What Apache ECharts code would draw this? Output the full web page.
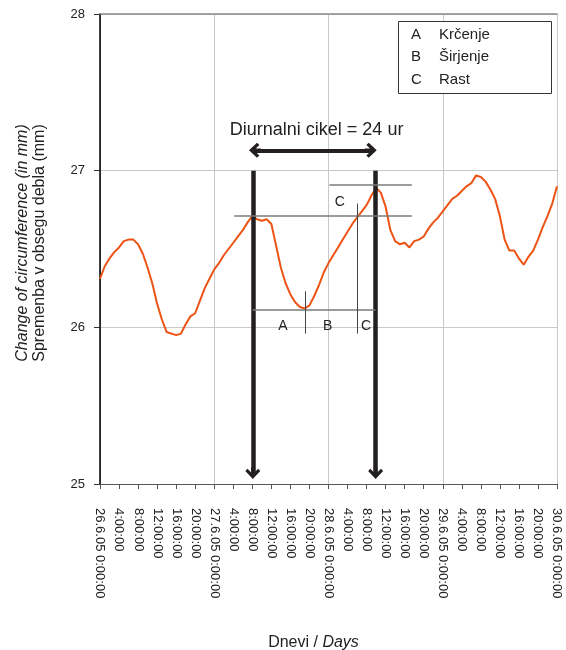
<!DOCTYPE html>
<html>
<head>
<meta charset="utf-8">
<script src="https://cdn.jsdelivr.net/npm/echarts@6/dist/echarts.min.js"></script>
<style>
  html, body { margin: 0; padding: 0; background: #fff; }
  #chart { width: 566px; height: 650px; }
</style>
</head>
<body>
<div id="chart"></div>
<script>
// hours since 26.6.05 0:00
const hours = [
  0, 1, 2, 3, 4, 5, 6, 7, 8, 9, 10, 11, 12, 13, 14, 15, 16, 17, 18, 19, 20, 21, 22, 23,
  24, 25, 26, 27, 28, 29, 30, 31, 32, 33, 34, 35, 36, 37, 38, 39, 40, 41, 42, 43, 44, 45, 46, 47,
  48, 49, 50, 51, 52, 53, 54, 55, 56, 57, 58, 59, 60, 61, 62, 63, 64, 65, 66, 67, 68, 69, 70, 71,
  72, 73, 74, 75, 76, 77, 78, 79, 80, 81, 82, 83, 84, 85, 86, 87, 88, 89, 90, 91, 92, 93, 94, 95,
  96
];
// sprememba v obsegu debla (mm)
const circumference = [
  26.31, 26.39, 26.44, 26.48, 26.51, 26.55, 26.56, 26.56, 26.53, 26.47, 26.38, 26.28,
  26.15, 26.05, 25.97, 25.96, 25.95, 25.96, 26.02, 26.07, 26.09, 26.17, 26.25, 26.31,
  26.37, 26.41, 26.46, 26.50, 26.54, 26.58, 26.62, 26.67, 26.71, 26.69, 26.68, 26.69,
  26.66, 26.52, 26.38, 26.28, 26.21, 26.16, 26.13, 26.12, 26.14, 26.20, 26.27, 26.35,
  26.41, 26.46, 26.51, 26.56, 26.61, 26.66, 26.70, 26.74, 26.78, 26.84, 26.89, 26.86,
  26.77, 26.62, 26.55, 26.53, 26.54, 26.51, 26.55, 26.56, 26.58, 26.63, 26.67, 26.70,
  26.74, 26.78, 26.82, 26.84, 26.87, 26.90, 26.92, 26.97, 26.96, 26.93, 26.88, 26.82,
  26.71, 26.56, 26.49, 26.49, 26.44, 26.40, 26.45, 26.49, 26.56, 26.64, 26.71, 26.79,
  26.90
];
const xTickLabels = [
  '26.6.05 0:00:00', '4:00:00', '8:00:00', '12:00:00', '16:00:00', '20:00:00',
  '27.6.05 0:00:00', '4:00:00', '8:00:00', '12:00:00', '16:00:00', '20:00:00',
  '28.6.05 0:00:00', '4:00:00', '8:00:00', '12:00:00', '16:00:00', '20:00:00',
  '29.6.05 0:00:00', '4:00:00', '8:00:00', '12:00:00', '16:00:00', '20:00:00',
  '30.6.05 0:00:00'
];

// annotations, in data units (hour, mm)
const cycleArrowHours = [32.1, 57.9];          // thick arrows 27 -> 25
const cycleSpan = [32.56, 56.87, 27.13];       // double arrow: from, to, level
const cycleText = ['Diurnalni cikel = 24 ur', 45.5, 27.26];
const levelLines = [[28.2, 65.5, 26.71], [48.2, 65.5, 26.91], [32.1, 57.9, 26.11]];
const phaseTicks = [[43.1, 25.96, 26.23], [54.1, 25.96, 26.79]];
const phaseLabels = [['A', 38.4, 26.01], ['B', 47.8, 26.01], ['C', 55.9, 26.01], ['C', 50.4, 26.80]];
const legendKeys = ['A', 'B', 'C'];
const legendNames = ['Krčenje', 'Širjenje', 'Rast'];

const FONT = 'Liberation Sans, Arial, sans-serif';
const chevron = 'path://M8,0 L16,8 L13.6,10.4 L8,4.8 L2.4,10.4 L0,8 Z M6.2,4 L9.8,4 L9.8,12 L6.2,12 Z';
const ink = '#231f20';

const chart = echarts.init(document.getElementById('chart'));

const markLines = [];
cycleArrowHours.forEach(function (h) {
  markLines.push([
    { coord: [h, 27], symbol: 'none' },
    { coord: [h, 25.07], symbol: chevron, symbolSize: [15, 12],
      lineStyle: { color: ink, width: 4.5, type: 'solid' } }
  ]);
});
markLines.push([
  { coord: [cycleSpan[0], cycleSpan[2]], symbol: chevron, symbolSize: [15, 12] },
  { coord: [cycleSpan[1], cycleSpan[2]], symbol: chevron, symbolSize: [15, 12],
    lineStyle: { color: ink, width: 4, type: 'solid' } }
]);
levelLines.forEach(function (l) {
  markLines.push([
    { coord: [l[0], l[2]], symbol: 'none' },
    { coord: [l[1], l[2]], symbol: 'none', lineStyle: { color: '#7a7a7a', width: 1.5, type: 'solid' } }
  ]);
});
phaseTicks.forEach(function (t) {
  markLines.push([
    { coord: [t[0], t[1]], symbol: 'none' },
    { coord: [t[0], t[2]], symbol: 'none', lineStyle: { color: '#444', width: 1, type: 'solid' } }
  ]);
});

const markPoints = phaseLabels.map(function (p) {
  return { coord: [p[1], p[2]], value: p[0] };
});
markPoints.push({
  coord: [cycleText[1], cycleText[2]], value: cycleText[0],
  label: { fontSize: 18 }
});

const option = {
  animation: false,
  backgroundColor: '#fff',
  textStyle: { fontFamily: FONT },
  grid: { left: 100, right: 9, top: 14, bottom: 166, containLabel: false, outerBoundsMode: 'none' },
  xAxis: [
    {
      type: 'value',
      min: 0,
      max: 96,
      interval: 4,
      name: '{n|Dnevi / }{i|Days}',
      nameLocation: 'middle',
      nameGap: 151,
      nameTextStyle: {
        padding: [0, 30, 0, 0],
        rich: {
          n: { fontSize: 16, color: '#222', fontFamily: FONT },
          i: { fontSize: 16, color: '#222', fontStyle: 'italic', fontFamily: FONT }
        }
      },
      axisLine: { lineStyle: { color: '#555', width: 1 } },
      axisTick: { length: 5, lineStyle: { color: '#555' } },
      axisLabel: {
        rotate: -90,
        margin: 24,
        fontSize: 13,
        color: '#222',
        fontFamily: FONT,
        formatter: function (v) { return xTickLabels[Math.round(v / 4)]; }
      },
      splitLine: { show: false }
    },
    {
      type: 'value',
      position: 'top',
      min: 0,
      max: 96,
      interval: 24,
      axisLine: { show: true, lineStyle: { color: '#8a8a8a', width: 1.5 } },
      axisTick: { show: false },
      axisLabel: { show: false },
      splitLine: { show: true, lineStyle: { color: '#c8c8c8', width: 1 } }
    }
  ],
  yAxis: [
    {
      type: 'value',
      min: 25,
      max: 28,
      interval: 1,
      name: '{i|Change of circumference (in mm)}\n{n|Spremenba v obsegu debla (mm)}',
      nameLocation: 'middle',
      nameRotate: 90,
      nameGap: 52,
      nameTextStyle: {
        padding: [0, 0, 0, 12],
        rich: {
          i: { fontSize: 16, lineHeight: 17, color: '#222', fontStyle: 'italic', fontFamily: FONT },
          n: { fontSize: 16, lineHeight: 17, color: '#222', fontFamily: FONT }
        }
      },
      axisLine: { show: true, lineStyle: { color: '#333', width: 1 } },
      axisTick: { show: true, length: 6, lineStyle: { color: '#333' } },
      axisLabel: { fontSize: 13, color: '#222', margin: 15, fontFamily: FONT },
      splitLine: { lineStyle: { color: '#c6c8cc', width: 1 } }
    },
    {
      type: 'value',
      position: 'right',
      min: 25,
      max: 28,
      interval: 1,
      axisLine: { show: true, lineStyle: { color: '#222', width: 1.7 } },
      axisTick: { show: false },
      axisLabel: { show: false },
      splitLine: { show: false }
    }
  ],
  series: [
    {
      type: 'line',
      xAxisIndex: 0,
      yAxisIndex: 0,
      data: hours.map(function (h, i) { return [h, circumference[i]]; }),
      showSymbol: false,
      lineStyle: { color: '#ec5314', width: 2 },
      silent: true,
      markLine: {
        silent: true,
        symbol: 'none',
        label: { show: false },
        emphasis: { disabled: true },
        lineStyle: { color: ink, width: 1, type: 'solid' },
        data: markLines
      },
      markPoint: {
        silent: true,
        symbol: 'circle',
        symbolSize: 0,
        label: {
          show: true,
          position: 'inside',
          color: '#222',
          fontSize: 14,
          fontFamily: FONT,
          formatter: function (p) { return p.value; }
        },
        data: markPoints
      }
    }
  ],
  graphic: [
    {
      type: 'rect',
      left: 398,
      top: 21,
      z: 100,
      shape: { width: 153, height: 72 },
      style: { fill: '#fff', stroke: '#333', lineWidth: 1 }
    }
  ].concat(legendKeys.map(function (k, i) {
    return {
      type: 'text',
      left: 411,
      top: 27 + i * 22.5,
      z: 101,
      style: { text: k, font: '15px ' + FONT, fill: '#222' }
    };
  })).concat(legendNames.map(function (t, i) {
    return {
      type: 'text',
      left: 439,
      top: 27 + i * 22.5,
      z: 101,
      style: { text: t, font: '15px ' + FONT, fill: '#222' }
    };
  }))
};

chart.setOption(option);
window.onresize = chart.resize;
</script>
</body>
</html>
